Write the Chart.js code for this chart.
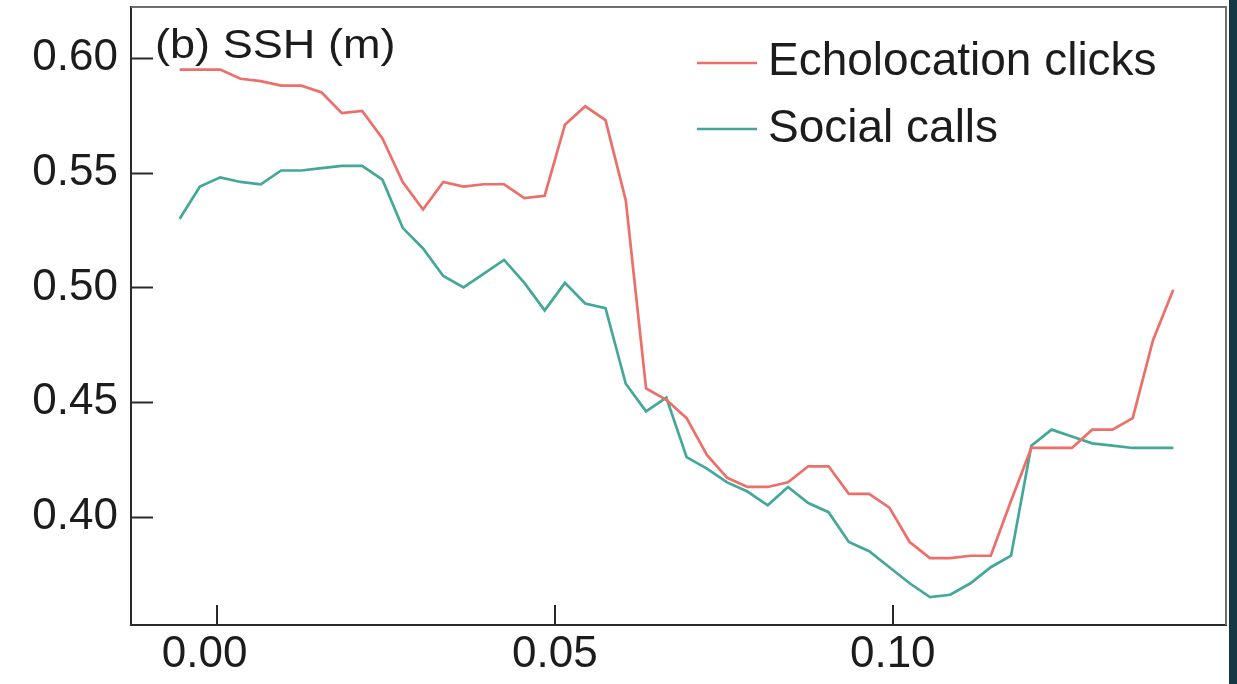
<!DOCTYPE html>
<html>
<head>
<meta charset="utf-8">
<script src="https://cdn.jsdelivr.net/npm/chart.js@4.4.1/dist/chart.umd.min.js"></script>
<style>
  html, body { margin: 0; padding: 0; background: #ffffff; overflow: hidden; }
  #wrap { width: 1237px; height: 684px; position: relative; }
</style>
</head>
<body>
<div id="wrap"><canvas id="c" width="1237" height="684"></canvas></div>
<script>
// Bin centres along the x axis
const xBins = [
  -0.0055, -0.0025, 0.0005, 0.0035, 0.0065, 0.0095, 0.0125, 0.0155, 0.0185, 0.0215,
  0.0245, 0.0275, 0.0305, 0.0335, 0.0365, 0.0395, 0.0425, 0.0455, 0.0485, 0.0515,
  0.0545, 0.0575, 0.0605, 0.0635, 0.0665, 0.0695, 0.0725, 0.0755, 0.0785, 0.0815,
  0.0845, 0.0875, 0.0905, 0.0935, 0.0965, 0.0995, 0.1025, 0.1055, 0.1085, 0.1115,
  0.1145, 0.1175, 0.1205, 0.1235, 0.1265, 0.1295, 0.1325, 0.1355, 0.1385, 0.1415
];

// SSH (m) for echolocation clicks
const clicksSSH = [
  0.595, 0.595, 0.595, 0.591, 0.590, 0.588, 0.588, 0.585, 0.576, 0.577,
  0.565, 0.546, 0.534, 0.546, 0.544, 0.545, 0.545, 0.539, 0.540, 0.571,
  0.579, 0.573, 0.538, 0.456, 0.451, 0.443, 0.427, 0.417, 0.413, 0.413,
  0.415, 0.422, 0.422, 0.410, 0.410, 0.404, 0.389, 0.382, 0.382, 0.383,
  0.383, 0.407, 0.430, 0.430, 0.430, 0.438, 0.438, 0.443, 0.477, 0.499
];

// SSH (m) for social calls
const callsSSH = [
  0.530, 0.544, 0.548, 0.546, 0.545, 0.551, 0.551, 0.552, 0.553, 0.553,
  0.547, 0.526, 0.517, 0.505, 0.500, 0.506, 0.512, 0.502, 0.490, 0.502,
  0.493, 0.491, 0.458, 0.446, 0.452, 0.426, 0.421, 0.415, 0.411, 0.405,
  0.413, 0.406, 0.402, 0.389, 0.385, 0.378, 0.371, 0.365, 0.366, 0.371,
  0.378, 0.383, 0.431, 0.438, 0.435, 0.432, 0.431, 0.430, 0.430, 0.430
];

const xTicks = [0.00, 0.05, 0.10];
const yTicks = [0.40, 0.45, 0.50, 0.55, 0.60];
const seriesNames = ['Echolocation clicks', 'Social calls'];
const panelTitle = '(b) SSH (m)';

const RED = '#ec6f69';
const TEAL = '#43a898';
const INK = '#1c1c1c';
const AXIS = '#2a2a2a';
const FONT = '"Liberation Sans", Arial, Helvetica, sans-serif';

const toPoints = (ys) => ys.map((y, i) => ({ x: xBins[i], y }));

const decorPlugin = {
  id: 'decor',
  beforeDraw(chart) {
    const { ctx, width, height } = chart;
    ctx.save();
    ctx.fillStyle = '#ffffff';
    ctx.fillRect(0, 0, width, height);
    // dark strip along the right edge
    ctx.fillStyle = '#163845';
    ctx.fillRect(1229, 0, width - 1229, height);
    ctx.restore();
  },
  afterDraw(chart) {
    const { ctx, chartArea: a, scales } = chart;
    ctx.save();
    // top and right frame
    ctx.strokeStyle = '#6e6e6e';
    ctx.lineWidth = 2;
    ctx.beginPath();
    ctx.moveTo(a.left, a.top);
    ctx.lineTo(a.right, a.top);
    ctx.lineTo(a.right, a.bottom);
    ctx.stroke();

    // inward tick marks
    ctx.strokeStyle = AXIS;
    ctx.lineWidth = 2;
    ctx.beginPath();
    yTicks.forEach(v => {
      const y = Math.round(scales.y.getPixelForValue(v)) + 0.5;
      ctx.moveTo(a.left, y);
      ctx.lineTo(a.left + 22, y);
    });
    xTicks.forEach(v => {
      const x = Math.round(scales.x.getPixelForValue(v));
      ctx.moveTo(x, a.bottom);
      ctx.lineTo(x, a.bottom - 20);
    });
    ctx.stroke();

    // panel title
    ctx.fillStyle = INK;
    ctx.textBaseline = 'alphabetic';
    ctx.textAlign = 'left';
    ctx.font = '41px ' + FONT;
    ctx.save();
    ctx.translate(155, 58);
    ctx.scale(1.1, 1);
    ctx.fillText(panelTitle, 0, 0);
    ctx.restore();

    // legend
    chart.data.datasets.forEach((ds, i) => {
      const yLine = 63 + i * 66;
      ctx.strokeStyle = ds.borderColor;
      ctx.lineWidth = 2.5;
      ctx.beginPath();
      ctx.moveTo(697, yLine);
      ctx.lineTo(757, yLine);
      ctx.stroke();
      ctx.fillStyle = INK;
      ctx.font = '46px ' + FONT;
      ctx.fillText(ds.label, 768, 75 + i * 67);
    });
    ctx.restore();
  }
};

new Chart(document.getElementById('c'), {
  type: 'line',
  data: {
    datasets: [
      {
        label: seriesNames[0],
        data: toPoints(clicksSSH),
        borderColor: RED,
        backgroundColor: RED,
        borderWidth: 2.7,
        pointRadius: 0,
        tension: 0,
        fill: false
      },
      {
        label: seriesNames[1],
        data: toPoints(callsSSH),
        borderColor: TEAL,
        backgroundColor: TEAL,
        borderWidth: 2.7,
        pointRadius: 0,
        tension: 0,
        fill: false
      }
    ]
  },
  options: {
    responsive: false,
    animation: false,
    devicePixelRatio: 1,
    layout: { padding: { top: 7, right: 11, left: 0, bottom: 0 } },
    plugins: {
      legend: { display: false },
      tooltip: { enabled: false },
      title: { display: false }
    },
    scales: {
      x: {
        type: 'linear',
        min: -0.0127,
        max: 0.1493,
        afterBuildTicks: (s) => { s.ticks = xTicks.map(v => ({ value: v })); },
        afterFit: (s) => { s.height = 59; s.paddingLeft = 0; s.paddingRight = 0; },
        grid: { display: false },
        border: { display: true, color: AXIS, width: 2 },
        ticks: {
          color: INK,
          padding: -5,
          maxRotation: 0,
          font: { family: FONT, size: 44 },
          // the zero label sits slightly left of its tick
          callback: (v) => Number(v) === 0 ? '0.00  ' : Number(v).toFixed(2)
        }
      },
      y: {
        type: 'linear',
        min: 0.3528,
        max: 0.6223,
        afterBuildTicks: (s) => { s.ticks = yTicks.map(v => ({ value: v })); },
        afterFit: (s) => { s.width = 131; s.paddingTop = 0; s.paddingBottom = 0; },
        grid: { display: false },
        border: { display: true, color: AXIS, width: 2 },
        ticks: {
          color: INK,
          padding: 5,
          font: { family: FONT, size: 44 },
          callback: (v) => Number(v).toFixed(2)
        }
      }
    }
  },
  plugins: [decorPlugin]
});
</script>
</body>
</html>
